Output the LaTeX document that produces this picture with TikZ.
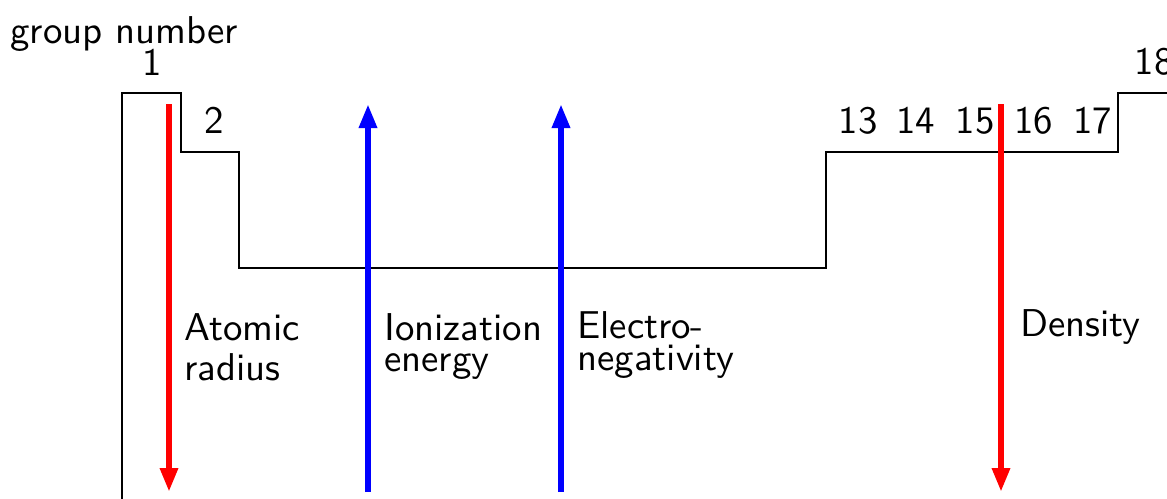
\documentclass[tikz,border=0pt]{standalone}
\usepackage{graphicx}
\usetikzlibrary{arrows.meta}
\newcommand\bigtxt[1]{\scalebox{1.94}{#1}}
\begin{document}
\begin{tikzpicture}[x=0.5pt,y=-0.5pt,
  txt/.style={font=\sffamily\fontsize{10}{12}\selectfont, inner sep=0pt},
  lbl/.style={txt, anchor=base west},
  num/.style={txt, anchor=base},
  outline/.style={line width=1pt, line join=miter},
  trend/.style={line width=3pt, -{Triangle[width=8.5pt,length=12pt]}}]
\clip (0,0) rectangle (1167,498);
% table outline
\draw[outline] (122,510) -- (122,93) -- (181,93) -- (181,152) -- (239,152)
  -- (239,268) -- (826,268) -- (826,152) -- (1118,152) -- (1118,93) -- (1190,93);
% group labels
\node[lbl] (gn) at (10,43) {\bigtxt{group number}};
\node[num] (g1) at (152,75) {\bigtxt{1}};
\node[num] (g2) at (214,133) {\bigtxt{2}};
\node[num] (g13) at (858,133) {\bigtxt{13}};
\node[num] (g14) at (915.5,133) {\bigtxt{14}};
\node[num] (g15) at (975,133) {\bigtxt{15}};
\node[num] (g16) at (1033.5,133) {\bigtxt{16}};
\node[num] (g17) at (1092.5,133) {\bigtxt{17}};
\node[num] (g18) at (1154,74) {\bigtxt{18}};
% trend arrows
\coordinate (ar1) at (169,104); \coordinate (ar2) at (169,492);
\coordinate (ie1) at (368,492); \coordinate (ie2) at (368,104);
\coordinate (en1) at (561,492); \coordinate (en2) at (561,104);
\coordinate (de1) at (1001,104); \coordinate (de2) at (1001,492);
\draw[trend, red] (ar1) -- (ar2);
\draw[trend, blue] (ie1) -- (ie2);
\draw[trend, blue] (en1) -- (en2);
\draw[trend, red] (de1) -- (de2);
% trend labels
\node[lbl] (ara) at (184,340) {\bigtxt{Atomic}};
\node[lbl] (arb) at (184,380) {\bigtxt{radius}};
\node[lbl] (iea) at (384,340) {\bigtxt{Ionization}};
\node[lbl] (ieb) at (384,371) {\bigtxt{energy}};
\node[lbl] (ena) at (577,338) {\bigtxt{Electro-}};
\node[lbl] (enb) at (577,370) {\bigtxt{negativity}};
\node[lbl] (dea) at (1020,336) {\bigtxt{Density}};
\end{tikzpicture}
\end{document}
